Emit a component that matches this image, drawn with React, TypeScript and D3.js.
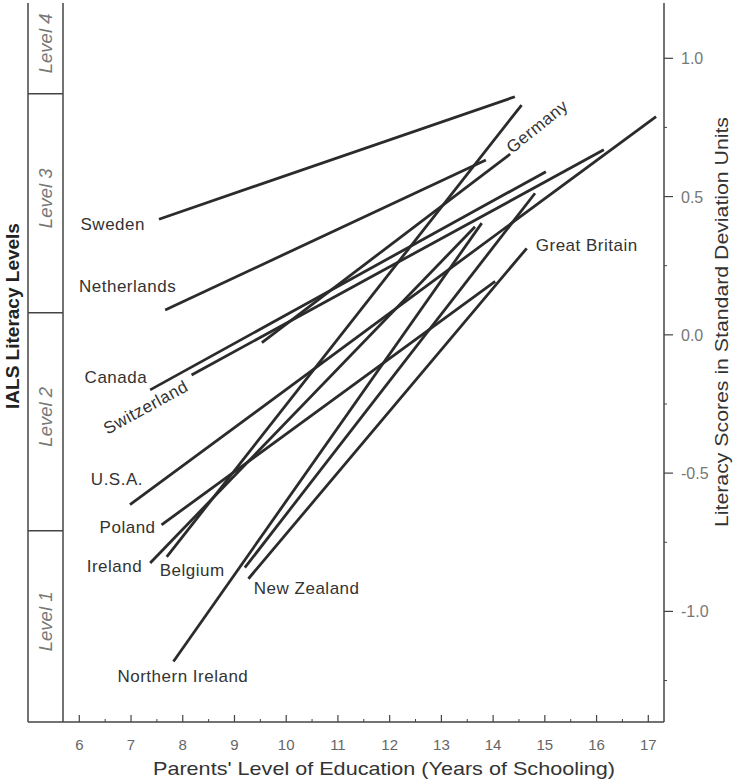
import React, { useEffect, useRef } from 'react';
import * as d3 from 'd3';

// parents' schooling (years) and literacy (SD units) at the two ends of each country gradient
const countries = ['Sweden', 'Netherlands', 'Canada', 'Switzerland', 'U.S.A.', 'Poland', 'Germany', 'Ireland', 'Belgium', 'Northern Ireland', 'New Zealand', 'Great Britain'];
const startYears = [7.54, 7.66, 7.37, 8.17, 6.98, 7.59, 9.53, 7.37, 7.69, 7.82, 9.20, 9.27];
const startScores = [0.418, 0.09, -0.199, -0.145, -0.614, -0.687, -0.028, -0.825, -0.803, -1.181, -0.842, -0.882];
const endYears = [14.42, 13.86, 15.02, 16.14, 17.15, 14.04, 14.33, 13.65, 14.55, 13.78, 14.81, 14.65];
const endScores = [0.861, 0.632, 0.59, 0.669, 0.789, 0.193, 0.654, 0.391, 0.831, 0.404, 0.512, 0.313];

const xTicks = [6, 7, 8, 9, 10, 11, 12, 13, 14, 15, 16, 17];
const yTicks = [-1.0, -0.5, 0.0, 0.5, 1.0];

// IALS level boundaries in SD units
const levelNames = ['Level 1', 'Level 2', 'Level 3', 'Level 4'];
const levelCuts = [-1.4, -0.7085, 0.0796, 0.8716, 1.2];

// where each label sits relative to its line end
const labelPos = [
  { at: 'start', dx: -14, dy: 11, anchor: 'end', rot: 0 },
  { at: 'start', dx: 11, dy: -18, anchor: 'end', rot: 0 },
  { at: 'start', dx: -3, dy: -7, anchor: 'end', rot: 0 },
  { at: 'start', dx: -2, dy: 15, anchor: 'end', rot: -28.6 },
  { at: 'start', dx: 13, dy: -20, anchor: 'end', rot: 0 },
  { at: 'start', dx: -6, dy: 8, anchor: 'end', rot: 0 },
  { at: 'end', dx: 2, dy: 0, anchor: 'start', rot: -39 },
  { at: 'start', dx: -8, dy: 9, anchor: 'end', rot: 0 },
  { at: 'start', dx: -7, dy: 19, anchor: 'start', rot: 0 },
  { at: 'start', dx: -56, dy: 21, anchor: 'start', rot: 0 },
  { at: 'start', dx: 9, dy: 26, anchor: 'start', rot: 0 },
  { at: 'end', dx: 9, dy: 3, anchor: 'start', rot: 0 },
];

const W = 735;
const H = 780;
const plotTop = 3;
const plotBottom = 722;
const boxLeft = 28;
const boxRight = 63;
const axisRight = 664;

const font = 'Liberation Sans, Arial, sans-serif';

const App = () => {
  const ref = useRef(null);

  useEffect(() => {
    const svg = d3.select(ref.current);
    svg.selectAll('*').remove();

    const x = d3.scaleLinear().domain([6, 17]).range([79.3, 648.3]);
    const y = d3.scaleLinear().domain([-1.4, 1.2]).range([plotBottom, plotTop]);

    const axisColor = '#444';

    // level box on the left
    const box = svg.append('g');
    box.append('line').attr('x1', boxLeft).attr('x2', boxLeft).attr('y1', plotTop).attr('y2', plotBottom)
      .attr('stroke', axisColor).attr('stroke-width', 1.5);
    box.append('line').attr('x1', boxRight).attr('x2', boxRight).attr('y1', plotTop).attr('y2', plotBottom)
      .attr('stroke', axisColor).attr('stroke-width', 1.5);
    box.selectAll('.cut')
      .data(levelCuts.slice(1, -1))
      .enter()
      .append('line')
      .attr('x1', boxLeft).attr('x2', boxRight)
      .attr('y1', d => y(d)).attr('y2', d => y(d))
      .attr('stroke', axisColor).attr('stroke-width', 1.5);
    box.selectAll('.lvl')
      .data(levelNames)
      .enter()
      .append('text')
      .attr('transform', (d, i) => {
        const cy = (y(levelCuts[i]) + y(levelCuts[i + 1])) / 2 - 5;
        return `translate(${(boxLeft + boxRight) / 2 + 6},${cy}) rotate(-90)`;
      })
      .attr('text-anchor', 'middle')
      .style('font-family', font)
      .style('font-style', 'italic')
      .style('font-size', '18.5px')
      .style('fill', '#777')
      .text(d => d);

    // bottom axis
    svg.append('line').attr('x1', boxLeft).attr('x2', axisRight).attr('y1', plotBottom).attr('y2', plotBottom)
      .attr('stroke', axisColor).attr('stroke-width', 1.5);
    const minorX = d3.range(6.5, 17.5, 1);
    svg.selectAll('.xt')
      .data(xTicks)
      .enter()
      .append('line')
      .attr('x1', d => x(d)).attr('x2', d => x(d))
      .attr('y1', plotBottom).attr('y2', plotBottom - 7)
      .attr('stroke', axisColor).attr('stroke-width', 1.2);
    svg.selectAll('.xm')
      .data(minorX)
      .enter()
      .append('line')
      .attr('x1', d => x(d)).attr('x2', d => x(d))
      .attr('y1', plotBottom).attr('y2', plotBottom - 3)
      .attr('stroke', axisColor).attr('stroke-width', 1);
    svg.selectAll('.xl')
      .data(xTicks)
      .enter()
      .append('text')
      .attr('x', d => x(d))
      .attr('y', 750)
      .attr('text-anchor', 'middle')
      .style('font-family', font)
      .style('font-size', '15px')
      .style('fill', '#666')
      .text(d => d);
    svg.append('text')
      .attr('x', 384)
      .attr('y', 775)
      .attr('text-anchor', 'middle')
      .attr('textLength', 462)
      .attr('lengthAdjust', 'spacingAndGlyphs')
      .style('font-family', font)
      .style('font-size', '19px')
      .style('fill', '#333')
      .text("Parents' Level of Education (Years of Schooling)");

    // right axis
    svg.append('line').attr('x1', axisRight).attr('x2', axisRight).attr('y1', plotTop).attr('y2', plotBottom)
      .attr('stroke', axisColor).attr('stroke-width', 1.5);
    const minorY = d3.range(-1.25, 1.1, 0.5);
    svg.selectAll('.yt')
      .data(yTicks)
      .enter()
      .append('line')
      .attr('x1', axisRight).attr('x2', axisRight + 9)
      .attr('y1', d => y(d)).attr('y2', d => y(d))
      .attr('stroke', axisColor).attr('stroke-width', 1.2);
    svg.selectAll('.ym')
      .data(minorY)
      .enter()
      .append('line')
      .attr('x1', axisRight).attr('x2', axisRight + 3)
      .attr('y1', d => y(d)).attr('y2', d => y(d))
      .attr('stroke', axisColor).attr('stroke-width', 1);
    svg.selectAll('.yl')
      .data(yTicks)
      .enter()
      .append('text')
      .attr('x', 681)
      .attr('y', d => y(d) + 6)
      .style('font-family', font)
      .style('font-size', '16px')
      .style('fill', '#777')
      .text(d => d.toFixed(1));
    svg.append('text')
      .attr('transform', `translate(728,322) rotate(-90)`)
      .attr('text-anchor', 'middle')
      .attr('textLength', 410)
      .attr('lengthAdjust', 'spacingAndGlyphs')
      .style('font-family', font)
      .style('font-size', '19px')
      .style('fill', '#333')
      .text('Literacy Scores in Standard Deviation Units');

    // left title
    svg.append('text')
      .attr('transform', `translate(19,316) rotate(-90)`)
      .attr('text-anchor', 'middle')
      .style('font-family', font)
      .style('font-weight', 'bold')
      .style('font-size', '19px')
      .style('fill', '#222')
      .text('IALS Literacy Levels');

    // country gradients
    svg.selectAll('.grad')
      .data(countries)
      .enter()
      .append('line')
      .attr('class', 'grad')
      .attr('x1', (d, i) => x(startYears[i]))
      .attr('y1', (d, i) => y(startScores[i]))
      .attr('x2', (d, i) => x(endYears[i]))
      .attr('y2', (d, i) => y(endScores[i]))
      .attr('stroke', '#2b2b2b')
      .attr('stroke-width', 2.8);

    svg.selectAll('.lab')
      .data(countries)
      .enter()
      .append('text')
      .attr('transform', (d, i) => {
        const p = labelPos[i];
        const px = p.at === 'start' ? x(startYears[i]) : x(endYears[i]);
        const py = p.at === 'start' ? y(startScores[i]) : y(endScores[i]);
        return `translate(${px + p.dx},${py + p.dy}) rotate(${p.rot})`;
      })
      .attr('text-anchor', (d, i) => labelPos[i].anchor)
      .style('font-family', font)
      .style('font-size', '17px')
      .style('letter-spacing', '0.5px')
      .style('fill', '#333')
      .text(d => d);
  }, []);

  return (
    <svg
      ref={ref}
      width={W}
      height={H}
      style={{ position: 'absolute', left: 0, top: 0, background: '#fff' }}
    ></svg>
  );
};

export default App;
